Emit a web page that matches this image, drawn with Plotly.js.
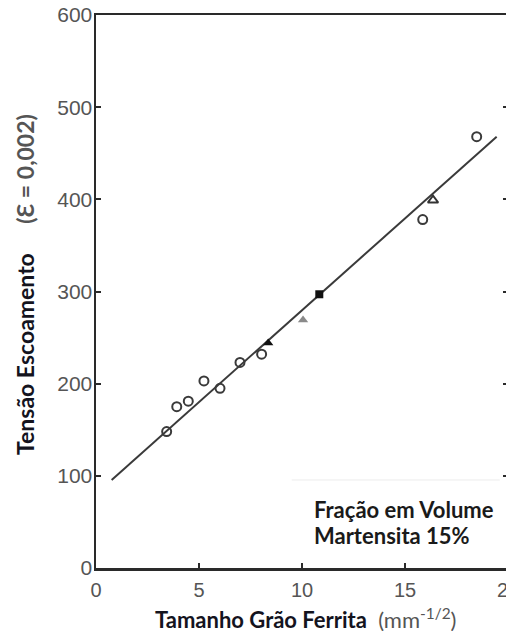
<!DOCTYPE html>
<html>
<head>
<meta charset="utf-8">
<script src="https://cdn.plot.ly/plotly-3.0.1.min.js"></script>
<style>
  html, body { margin: 0; padding: 0; background: #fff; overflow: hidden; }
  #chart { width: 530px; height: 631px; }
</style>
</head>
<body>
<div id="chart"></div>
<script>
// Grain size (mm^-1/2) vs yield stress at 0.2% strain, 15% martensite
const circleX = [3.43, 3.92, 4.48, 5.24, 6.02, 6.99, 8.04, 15.86, 18.48];
const circleY = [148, 175, 181, 203, 195, 223, 232, 378, 468];

const solidTriX = [8.36];
const solidTriY = [244];

const grayTriX = [10.05];
const grayTriY = [269];

const squareX = [10.84];
const squareY = [297];

const openTriX = [16.36];
const openTriY = [399];

// least-squares trend line
const fitX = [0.76, 19.45];
const fitY = [95.5, 468];

const xTicks = [0, 5, 10, 15, 20];
const yTicks = [0, 100, 200, 300, 400, 500, 600];

const ink = '#2a2a2a';

const traces = [
  {
    x: fitX, y: fitY, mode: 'lines', type: 'scatter',
    line: { color: '#3a3a3a', width: 2 }, hoverinfo: 'skip'
  },
  {
    x: circleX, y: circleY, mode: 'markers', type: 'scatter',
    marker: { symbol: 'circle-open', size: 9, color: '#3a3a3a', line: { width: 2, color: '#3a3a3a' } }
  },
  {
    x: solidTriX, y: solidTriY, mode: 'markers', type: 'scatter',
    marker: { symbol: 'triangle-up', size: 9, color: '#111' }
  },
  {
    x: grayTriX, y: grayTriY, mode: 'markers', type: 'scatter',
    marker: { symbol: 'triangle-up', size: 9, color: '#8a8a8a' }
  },
  {
    x: squareX, y: squareY, mode: 'markers', type: 'scatter',
    marker: { symbol: 'square', size: 8, color: '#111' }
  },
  {
    x: openTriX, y: openTriY, mode: 'markers', type: 'scatter',
    marker: { symbol: 'triangle-up-open', size: 9, color: '#333', line: { width: 2, color: '#333' } }
  }
];

const tickFamily = 'Liberation Sans, Arial, sans-serif';
const titleFamily = 'Lato, Open Sans, sans-serif';

const layout = {
  width: 530,
  height: 631,
  margin: { l: 96, r: 22, t: 15, b: 63 },
  paper_bgcolor: '#fff',
  plot_bgcolor: '#fff',
  showlegend: false,
  xaxis: {
    range: [0, 20],
    tickvals: xTicks,
    ticktext: xTicks.map(String),
    ticks: 'inside', ticklen: 5, tickwidth: 2, tickcolor: ink,
    showline: true, linecolor: ink, linewidth: 2.5, mirror: true,
    showgrid: false, zeroline: false,
    tickfont: { family: tickFamily, size: 20, color: '#555' },
    ticklabelstandoff: 2
  },
  yaxis: {
    range: [0, 600],
    tickvals: yTicks,
    ticktext: yTicks.map(String),
    ticks: 'inside', ticklen: 5, tickwidth: 2, tickcolor: ink,
    showline: true, linecolor: ink, linewidth: 2.5, mirror: 'ticks',
    showgrid: false, zeroline: false,
    tickfont: { family: tickFamily, size: 21, color: '#555' },
    ticklabelstandoff: -3
  },
  shapes: [
    {
      type: 'line', xref: 'x', yref: 'y',
      x0: 9.5, x1: 19.6, y0: 95.5, y1: 95.5,
      line: { color: '#ececec', width: 1 }
    }
  ],
  annotations: [
    {
      xref: 'paper', yref: 'paper', x: 0.5085, y: -0.0905,
      xanchor: 'center', yanchor: 'middle', showarrow: false,
      text: "<b>Tamanho Grão Ferrita</b>  <span style='color:#555'>(mm<sup>-1/2</sup>)</span>",
      font: { family: titleFamily, size: 22, color: '#14141e' }
    },
    {
      xref: 'paper', yref: 'paper', x: -0.172, y: 0.512,
      xanchor: 'center', yanchor: 'middle', showarrow: false, textangle: -90,
      text: "<b>Tensão Escoamento</b>     <span style='color:#555'><b>(Ɛ = 0,002)</b></span>",
      font: { family: titleFamily, size: 23, color: '#14141e' }
    },
    {
      xref: 'paper', yref: 'paper', x: 0.524, y: 0.1049,
      xanchor: 'left', yanchor: 'middle', align: 'left', showarrow: false,
      text: '<b>Fração em Volume</b>',
      font: { family: titleFamily, size: 22, color: '#1a1a1a' }
    },
    {
      xref: 'paper', yref: 'paper', x: 0.524, y: 0.0579,
      xanchor: 'left', yanchor: 'middle', align: 'left', showarrow: false,
      text: '<b>Martensita 15%</b>',
      font: { family: titleFamily, size: 22, color: '#1a1a1a' }
    }
  ]
};

Plotly.newPlot('chart', traces, layout, { displayModeBar: false, staticPlot: true });
</script>
</body>
</html>
